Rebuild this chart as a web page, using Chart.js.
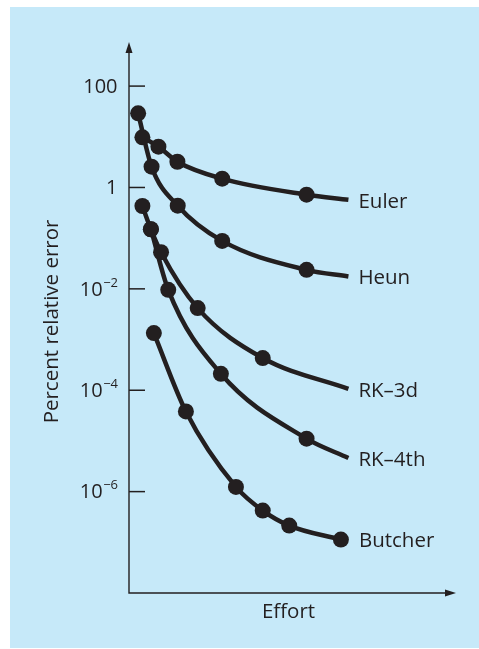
<!DOCTYPE html>
<html>
<head>
<meta charset="utf-8">
<script src="https://cdn.jsdelivr.net/npm/chart.js@4.4.1/dist/chart.umd.min.js"></script>
<style>
  body { margin: 0; background: #fff; }
  #panel { position: absolute; left: 10px; top: 7px; width: 469px; height: 641px; background: #c6e9f9; }
</style>
</head>
<body>
<div id="panel"><canvas id="errChart" width="469" height="641"></canvas></div>
<script>
// effort in arbitrary units (0 - 100 along the axis), error in percent
const eulerEffort = [4.1, 9.0, 14.8, 28.5, 54.3, 67.1];
const eulerError = [9.75, 6.37, 3.22, 1.49, 0.72, 0.57];

const heunEffort = [2.8, 6.9, 14.9, 28.5, 54.3, 67.1];
const heunError = [29.0, 2.57, 0.437, 0.0883, 0.0237, 0.0175];

const rk3Effort = [4.1, 6.7, 9.8, 21.0, 40.9, 67.1];
const rk3Error = [0.431, 0.150, 0.0528, 0.00417, 4.31e-4, 1.06e-4];

const rk4Effort = [6.7, 12.0, 28.1, 54.3, 67.1];
const rk4Error = [0.150, 0.00955, 2.11e-4, 1.11e-5, 4.61e-6];

const butcherEffort = [7.6, 17.4, 32.7, 40.9, 49.0, 64.8];
const butcherError = [1.34e-3, 3.82e-5, 1.24e-6, 4.23e-7, 2.14e-7, 1.13e-7];

const seriesNames = ['Euler', 'Heun', 'RK\u20133d', 'RK\u20134th', 'Butcher'];
// the last point of a curve is only a line end unless marked here
const endsWithDot = [false, false, false, false, true];

const yTickValues = [100, 1, 1e-2, 1e-4, 1e-6];
const yTickBase = ['100', '1', '10', '10', '10'];
const yTickExp = ['', '', '\u22122', '\u22124', '\u22126'];

const INK = '#231f20';
const FONT = '"Open Sans", "Noto Sans", sans-serif';

function makeSeries(i, effort, error) {
    const last = effort.length - 1;
    return {
        label: seriesNames[i],
        data: effort.map((x, k) => ({ x: x, y: error[k] })),
        borderColor: INK,
        borderWidth: 4.5,
        backgroundColor: INK,
        pointBackgroundColor: INK,
        pointBorderWidth: 0,
        pointRadius: effort.map((x, k) => (k === last && !endsWithDot[i]) ? 0 : 8),
        cubicInterpolationMode: 'monotone',
        clip: false
    };
}

const axesPlugin = {
    id: 'axesPlugin',
    beforeDatasetsDraw(chart) {
        const ctx = chart.ctx;
        const area = chart.chartArea;
        const yScale = chart.scales.y;
        ctx.save();
        ctx.strokeStyle = INK;
        ctx.fillStyle = INK;
        ctx.lineWidth = 1.4;

        // axis lines
        ctx.beginPath();
        ctx.moveTo(area.left, area.top + 6);
        ctx.lineTo(area.left, area.bottom);
        ctx.lineTo(area.right - 6, area.bottom);
        ctx.stroke();

        // arrow heads
        ctx.beginPath();
        ctx.moveTo(area.left, area.top);
        ctx.lineTo(area.left - 3.5, area.top + 11);
        ctx.lineTo(area.left + 3.5, area.top + 11);
        ctx.closePath();
        ctx.fill();
        ctx.beginPath();
        ctx.moveTo(area.right, area.bottom);
        ctx.lineTo(area.right - 11, area.bottom - 3.5);
        ctx.lineTo(area.right - 11, area.bottom + 3.5);
        ctx.closePath();
        ctx.fill();

        // ticks and labels
        ctx.lineWidth = 1.5;
        yTickValues.forEach((v, i) => {
            const y = yScale.getPixelForValue(v);
            ctx.beginPath();
            ctx.moveTo(area.left, y);
            ctx.lineTo(area.left + 16, y);
            ctx.stroke();

            const right = area.left - 11;
            ctx.textBaseline = 'middle';
            ctx.textAlign = 'right';
            let expWidth = 0;
            if (yTickExp[i]) {
                ctx.font = '13px ' + FONT;
                expWidth = ctx.measureText(yTickExp[i]).width;
                ctx.fillText(yTickExp[i], right, y - 6);
            }
            ctx.font = '20px ' + FONT;
            ctx.fillText(yTickBase[i], right - expWidth - 0.5, y + 1);
        });

        // axis titles
        ctx.font = '20.5px ' + FONT;
        ctx.textAlign = 'center';
        ctx.textBaseline = 'middle';
        ctx.fillText('Effort', (area.left + area.right) / 2 - 4, area.bottom + 19);
        ctx.save();
        ctx.translate(area.left - 77, (area.top + area.bottom) / 2 + 4);
        ctx.rotate(-Math.PI / 2);
        ctx.fillText('Percent relative error', 0, 0);
        ctx.restore();
        ctx.restore();
    },
    afterDatasetsDraw(chart) {
        const ctx = chart.ctx;
        ctx.save();
        ctx.fillStyle = INK;
        ctx.font = '20.5px ' + FONT;
        ctx.textAlign = 'left';
        ctx.textBaseline = 'middle';
        chart.data.datasets.forEach((ds, i) => {
            const pts = chart.getDatasetMeta(i).data;
            const last = pts[pts.length - 1];
            const gap = endsWithDot[i] ? 18 : 10;
            ctx.fillText(ds.label, last.x + gap, last.y + 2);
        });
        ctx.restore();
    }
};

new Chart(document.getElementById('errChart'), {
    type: 'line',
    data: {
        datasets: [
            makeSeries(0, eulerEffort, eulerError),
            makeSeries(1, heunEffort, heunError),
            makeSeries(2, rk3Effort, rk3Error),
            makeSeries(3, rk4Effort, rk4Error),
            makeSeries(4, butcherEffort, butcherError)
        ]
    },
    options: {
        responsive: false,
        animation: false,
        devicePixelRatio: 1,
        events: [],
        layout: { padding: { left: 119, right: 23, top: 35, bottom: 55 } },
        plugins: { legend: { display: false }, tooltip: { enabled: false } },
        scales: {
            x: { type: 'linear', min: 0, max: 100, display: false },
            y: { type: 'logarithmic', min: 1e-8, max: 741, display: false }
        }
    },
    plugins: [axesPlugin]
});
</script>
</body>
</html>
